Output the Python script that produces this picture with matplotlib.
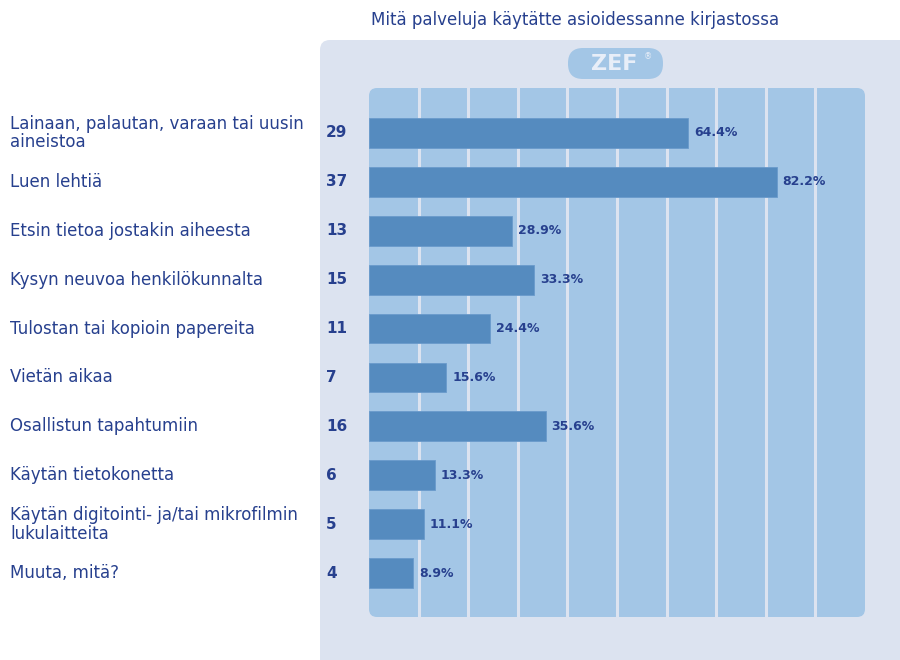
import matplotlib
matplotlib.use("Agg")
import matplotlib.pyplot as plt
from matplotlib.patches import FancyBboxPatch
from matplotlib.transforms import IdentityTransform, blended_transform_factory

title = "Mitä palveluja käytätte asioidessanne kirjastossa"
labels = [
    "Lainaan, palautan, varaan tai uusin\naineistoa",
    "Luen lehtiä",
    "Etsin tietoa jostakin aiheesta",
    "Kysyn neuvoa henkilökunnalta",
    "Tulostan tai kopioin papereita",
    "Vietän aikaa",
    "Osallistun tapahtumiin",
    "Käytän tietokonetta",
    "Käytän digitointi- ja/tai mikrofilmin\nlukulaitteita",
    "Muuta, mitä?",
]
counts = [29, 37, 13, 15, 11, 7, 16, 6, 5, 4]
percents = [64.4, 82.2, 28.9, 33.3, 24.4, 15.6, 35.6, 13.3, 11.1, 8.9]

W, H = 900, 660
text_col = "#27408e"
outer_col = "#dce3f0"
inner_col = "#a3c6e6"
bar_col = "#558bbf"

fig = plt.figure(figsize=(W / 100, H / 100), dpi=100)
px = IdentityTransform()

# outer panel
fig.patches.append(FancyBboxPatch((320, -40), 640, 660, boxstyle="round,pad=0,rounding_size=10",
                                  transform=px, facecolor=outer_col, edgecolor="none", zorder=0))
# inner striped panel
fig.patches.append(FancyBboxPatch((369, H - 617), 496, 529, boxstyle="round,pad=0,rounding_size=8",
                                  transform=px, facecolor=inner_col, edgecolor="none", zorder=1))
# ZEF pill
fig.patches.append(FancyBboxPatch((568, H - 79), 95, 31, boxstyle="round,pad=0,rounding_size=15",
                                  transform=px, facecolor=inner_col, edgecolor="none", zorder=1))
fig.text(614 / W, 1 - 64 / H, "ZEF", ha="center", va="center", color="#e8eef8",
         fontsize=16, fontweight="bold", zorder=2)
fig.text(648 / W, 1 - 57 / H, "®", ha="center", va="center", color="#e8eef8", fontsize=6, zorder=2)

fig.text(575 / W, 1 - 20 / H, title, ha="center", va="center", color=text_col, fontsize=12)

ax = fig.add_axes([369 / W, 43 / H, 496 / W, 529 / H], zorder=5)
ax.set_facecolor("none")
ax.set_xlim(0, 100)
ax.set_ylim(9 + 44 / 49, -45 / 49)
ax.axis("off")

rows = list(range(len(labels)))
for xv in range(10, 100, 10):
    ax.axvline(xv, color=outer_col, lw=2.2, zorder=1)
ax.barh(rows, percents, height=0.61, color=bar_col, edgecolor="#6a9acb", lw=0.6, zorder=2)

tr = blended_transform_factory(fig.transFigure, ax.transData)
for r, lab, c, p in zip(rows, labels, counts, percents):
    ax.text(10 / W, r, lab, transform=tr, ha="left", va="center", color=text_col,
            fontsize=12, linespacing=1.05, clip_on=False)
    ax.text(326 / W, r, str(c), transform=tr, ha="left", va="center", color=text_col,
            fontsize=11, fontweight="bold", clip_on=False)
    ax.text(p + 1.2, r, f"{p:.1f}%", ha="left", va="center", color=text_col,
            fontsize=9, fontweight="bold", zorder=3)

fig.savefig("out.png", dpi=100)
